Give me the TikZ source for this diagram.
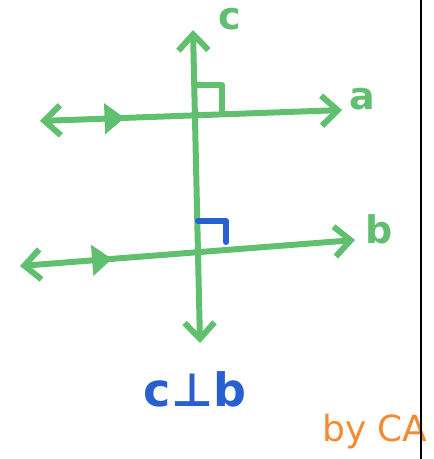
\documentclass[tikz,border=0pt]{standalone}
\usepackage{fontspec}
\setmainfont{DejaVu Sans}
\usepackage{xcolor}
\usetikzlibrary{arrows.meta,decorations.markings}

\definecolor{marker}{RGB}{96,192,112}
\definecolor{pen}{RGB}{40,96,210}
\definecolor{sign}{RGB}{242,140,52}

\begin{document}
\begin{tikzpicture}[x=1pt, y=1pt, line cap=round, line join=round,
  line/.style={draw=marker, line width=6pt},
  barb/.style={{Straight Barb[length=16pt,width=30pt]}-{Straight Barb[length=16pt,width=30pt]}},
  midarrow/.style={postaction={decorate, decoration={markings,
      mark=at position #1 with {\arrow{Triangle[length=20pt,width=30pt]}}}}},
  lab/.style={font=\bfseries\fontsize{38}{40}\selectfont}]
  \useasboundingbox (0,0) rectangle (434,459);

  % the three lines
  \coordinate (cT) at (193,429);
  \coordinate (cB) at (200,116);
  \coordinate (aL) at (40,338);
  \coordinate (aR) at (342,349);
  \coordinate (bL) at (20,193);
  \coordinate (bR) at (355,219);

  \draw[line, barb] (cB) -- (cT);
  \draw[line, barb, midarrow=0.28] (aL) -- (aR);
  \draw[line, barb, midarrow=0.275] (bL) -- (bR);

  % right angle marks
  \draw[line] (194,374) -- (222,374) -- (222,347);
  \draw[draw=pen, line width=6pt] (198,238) -- (226,238) -- (226,217);

  % labels
  \node[lab, text=marker] (labc) at (230,440) {c};
  \node[lab, text=marker] (laba) at (362,360) {a};
  \node[lab, text=marker] (labb) at (379,230) {b};
  \node[text=pen, font=\bfseries\fontsize{46}{48}\selectfont] (perp) at (195,70) {c⊥b};
  \node[text=sign, font=\fontsize{36}{40}\selectfont, anchor=base west, inner sep=0pt] (sig) at (322,17) {by CA};

  % page edge
  \draw[line width=2pt] (421,0) -- (421,459);
\end{tikzpicture}
\end{document}
